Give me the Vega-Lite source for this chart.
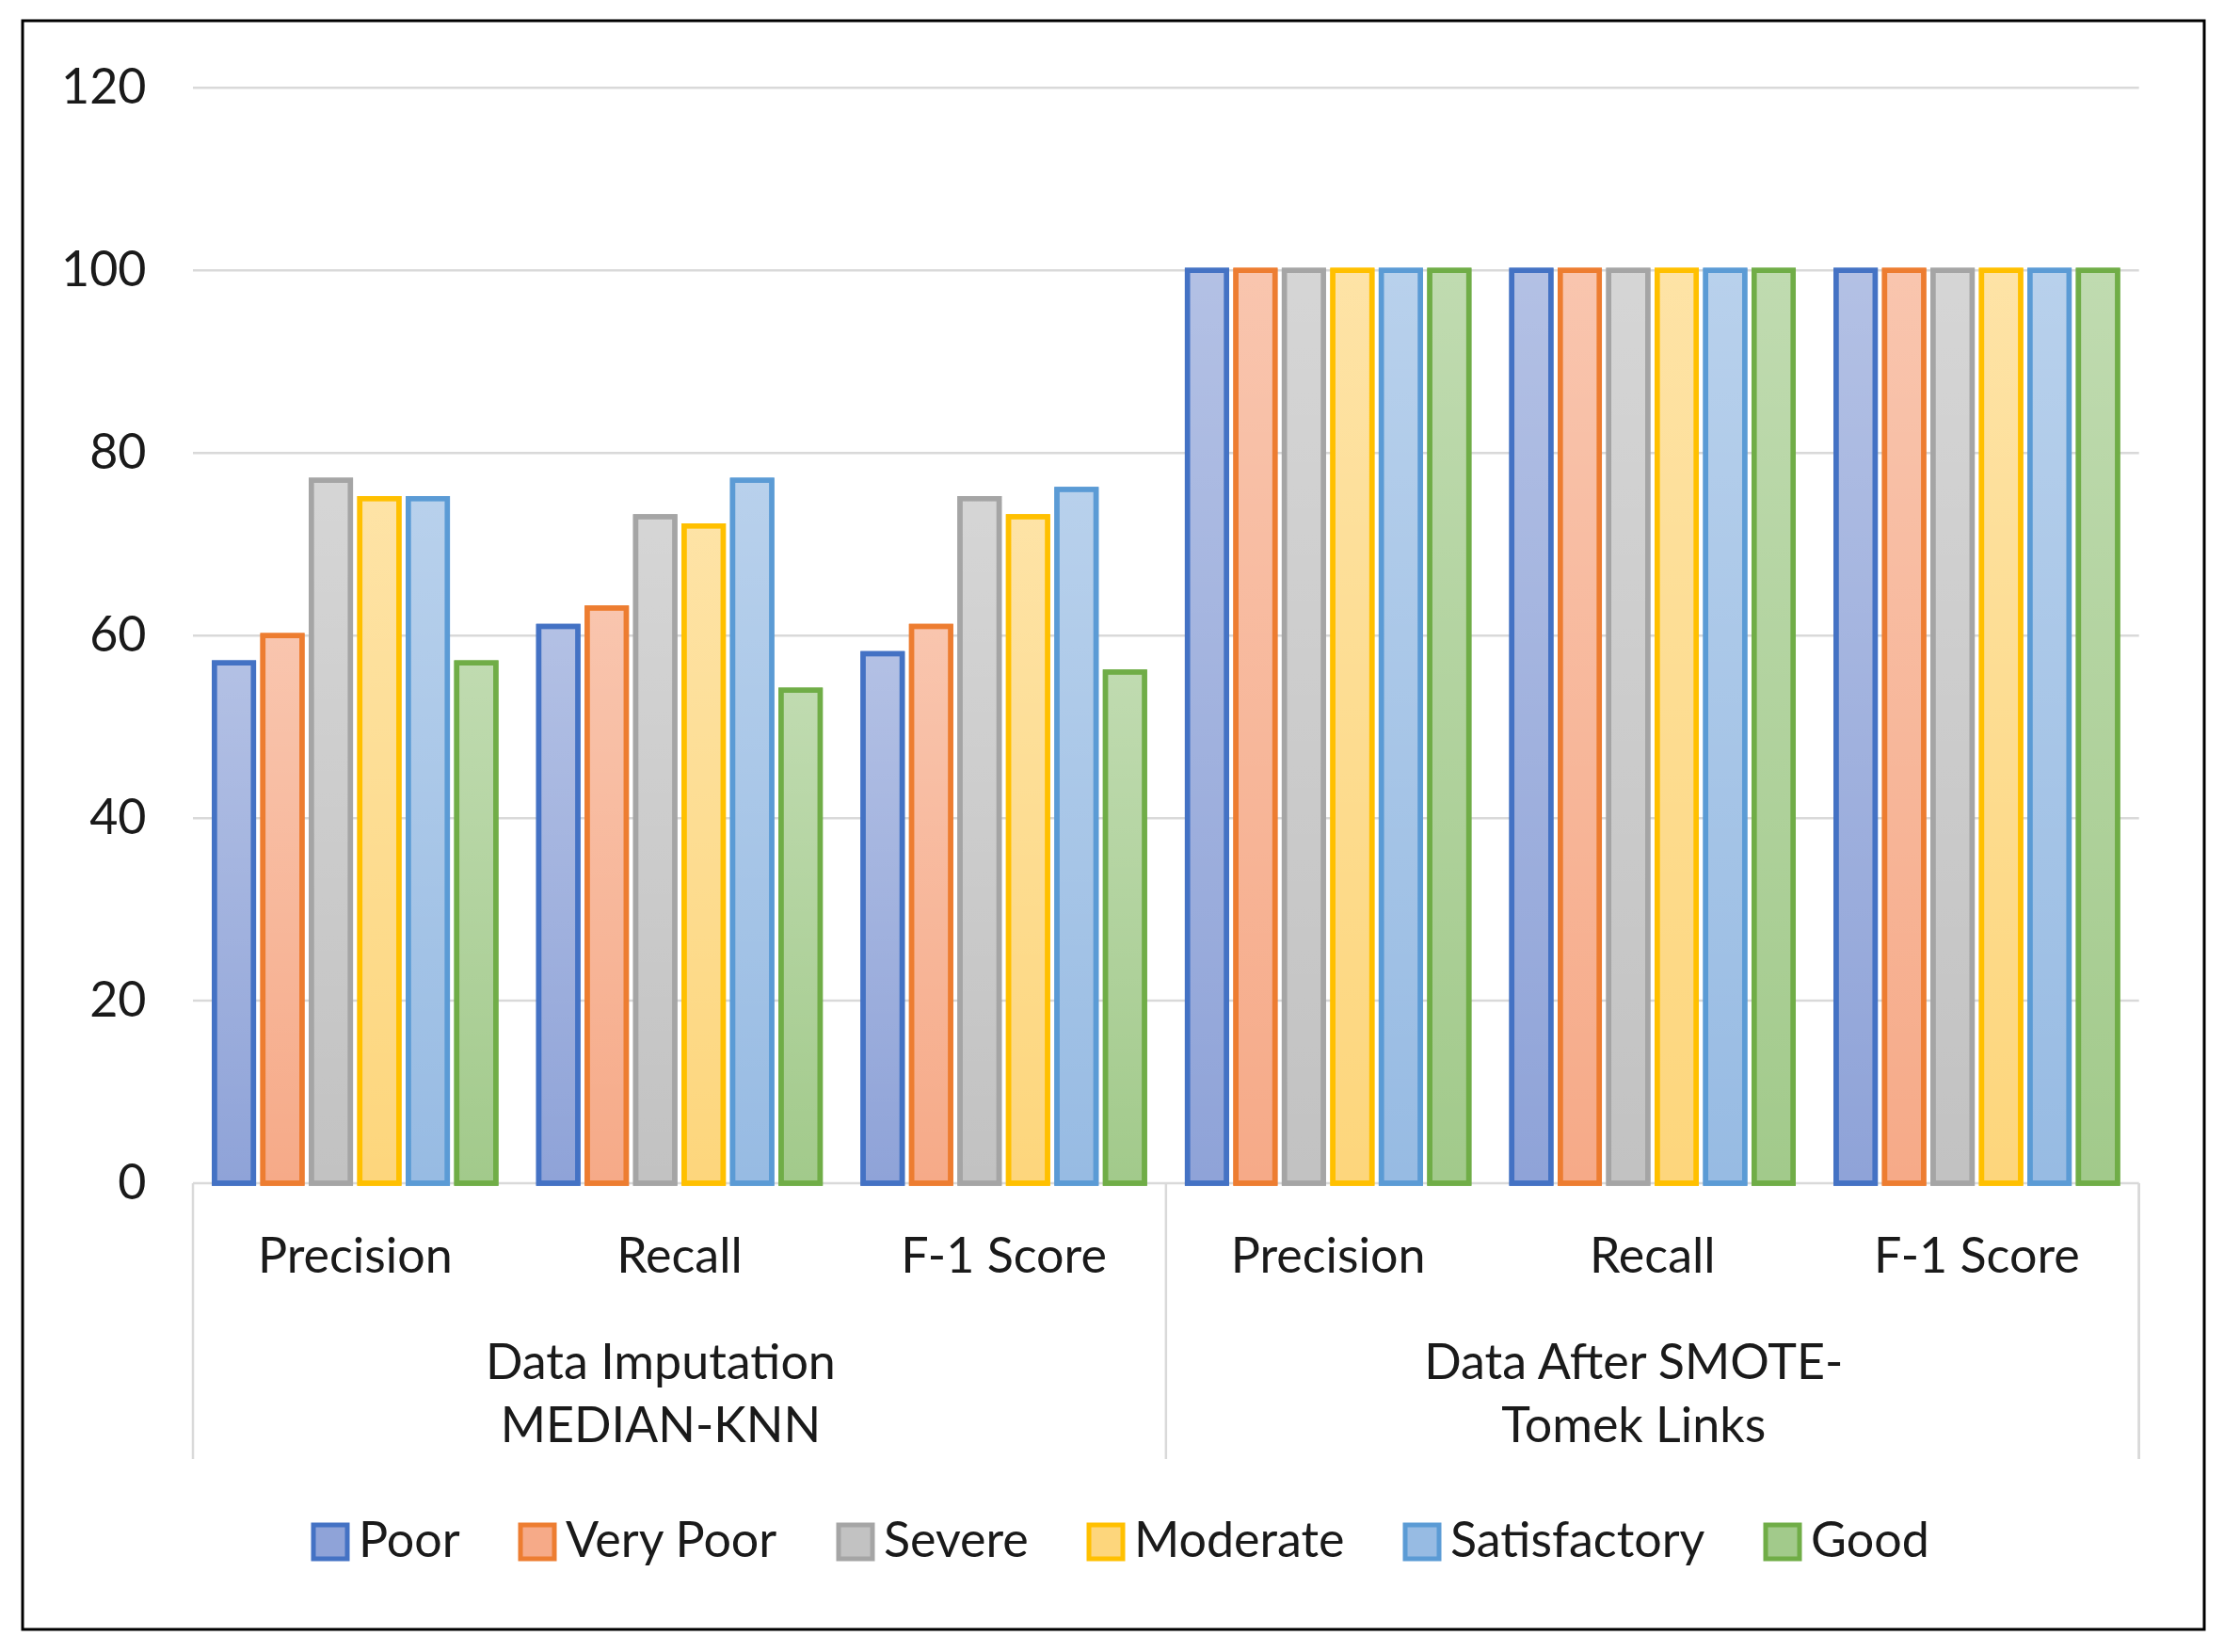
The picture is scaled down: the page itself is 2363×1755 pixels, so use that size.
{
  "$schema": "https://vega.github.io/schema/vega-lite/v6.json",
  "width": 2318,
  "height": 1709,
  "autosize": "none",
  "padding": {"left": 24, "top": 22, "right": 21, "bottom": 24},
  "background": "white",
  "config": {
    "view": {"stroke": "#000000", "strokeWidth": 3},
    "font": "Lato",
    "axis": {"labelFont": "Lato", "labelColor": "#1a1a1a", "labelFontSize": 52},
    "legend": {"labelFont": "Lato", "labelColor": "#1a1a1a"}
  },
  "datasets": {
    "bars": [
      {"cat": "MEDIAN-KNN|Precision", "cls": "Poor", "value": 57},
      {"cat": "MEDIAN-KNN|Precision", "cls": "Very Poor", "value": 60},
      {"cat": "MEDIAN-KNN|Precision", "cls": "Severe", "value": 77},
      {"cat": "MEDIAN-KNN|Precision", "cls": "Moderate", "value": 75},
      {"cat": "MEDIAN-KNN|Precision", "cls": "Satisfactory", "value": 75},
      {"cat": "MEDIAN-KNN|Precision", "cls": "Good", "value": 57},
      {"cat": "MEDIAN-KNN|Recall", "cls": "Poor", "value": 61},
      {"cat": "MEDIAN-KNN|Recall", "cls": "Very Poor", "value": 63},
      {"cat": "MEDIAN-KNN|Recall", "cls": "Severe", "value": 73},
      {"cat": "MEDIAN-KNN|Recall", "cls": "Moderate", "value": 72},
      {"cat": "MEDIAN-KNN|Recall", "cls": "Satisfactory", "value": 77},
      {"cat": "MEDIAN-KNN|Recall", "cls": "Good", "value": 54},
      {"cat": "MEDIAN-KNN|F-1 Score", "cls": "Poor", "value": 58},
      {"cat": "MEDIAN-KNN|F-1 Score", "cls": "Very Poor", "value": 61},
      {"cat": "MEDIAN-KNN|F-1 Score", "cls": "Severe", "value": 75},
      {"cat": "MEDIAN-KNN|F-1 Score", "cls": "Moderate", "value": 73},
      {"cat": "MEDIAN-KNN|F-1 Score", "cls": "Satisfactory", "value": 76},
      {"cat": "MEDIAN-KNN|F-1 Score", "cls": "Good", "value": 56},
      {"cat": "SMOTE-Tomek|Precision", "cls": "Poor", "value": 100},
      {"cat": "SMOTE-Tomek|Precision", "cls": "Very Poor", "value": 100},
      {"cat": "SMOTE-Tomek|Precision", "cls": "Severe", "value": 100},
      {"cat": "SMOTE-Tomek|Precision", "cls": "Moderate", "value": 100},
      {"cat": "SMOTE-Tomek|Precision", "cls": "Satisfactory", "value": 100},
      {"cat": "SMOTE-Tomek|Precision", "cls": "Good", "value": 100},
      {"cat": "SMOTE-Tomek|Recall", "cls": "Poor", "value": 100},
      {"cat": "SMOTE-Tomek|Recall", "cls": "Very Poor", "value": 100},
      {"cat": "SMOTE-Tomek|Recall", "cls": "Severe", "value": 100},
      {"cat": "SMOTE-Tomek|Recall", "cls": "Moderate", "value": 100},
      {"cat": "SMOTE-Tomek|Recall", "cls": "Satisfactory", "value": 100},
      {"cat": "SMOTE-Tomek|Recall", "cls": "Good", "value": 100},
      {"cat": "SMOTE-Tomek|F-1 Score", "cls": "Poor", "value": 100},
      {"cat": "SMOTE-Tomek|F-1 Score", "cls": "Very Poor", "value": 100},
      {"cat": "SMOTE-Tomek|F-1 Score", "cls": "Severe", "value": 100},
      {"cat": "SMOTE-Tomek|F-1 Score", "cls": "Moderate", "value": 100},
      {"cat": "SMOTE-Tomek|F-1 Score", "cls": "Satisfactory", "value": 100},
      {"cat": "SMOTE-Tomek|F-1 Score", "cls": "Good", "value": 100}
    ],
    "grid": [{"v": 0}, {"v": 20}, {"v": 40}, {"v": 60}, {"v": 80}, {"v": 100}, {"v": 120}],
    "seps": [{"cat": "MEDIAN-KNN|Precision"}, {"cat": "SMOTE-Tomek|Precision"}],
    "groups": [
      {"cat": "MEDIAN-KNN|Recall", "label": "Data Imputation\nMEDIAN-KNN"},
      {"cat": "SMOTE-Tomek|Recall", "label": "Data After SMOTE-\nTomek Links"}
    ]
  },
  "layer": [
    {
      "data": {"name": "grid"},
      "mark": {"type": "rule", "color": "#d9d9d9", "strokeWidth": 2.5},
      "encoding": {
        "y": {"field": "v", "type": "quantitative"},
        "x": {"datum": "MEDIAN-KNN|Precision", "type": "nominal", "bandPosition": 0},
        "x2": {"datum": "SMOTE-Tomek|F-1 Score", "bandPosition": 1}
      }
    },
    {
      "data": {"name": "seps"},
      "mark": {"type": "rule", "color": "#d9d9d9", "strokeWidth": 2.5},
      "encoding": {
        "x": {"field": "cat", "type": "nominal", "bandPosition": 0},
        "y": {"datum": 0, "type": "quantitative"},
        "y2": {"datum": -30.2}
      }
    },
    {
      "data": {"name": "seps"},
      "mark": {"type": "rule", "color": "#d9d9d9", "strokeWidth": 2.5},
      "encoding": {
        "x": {"datum": "SMOTE-Tomek|F-1 Score", "type": "nominal", "bandPosition": 1},
        "y": {"datum": 0, "type": "quantitative"},
        "y2": {"datum": -30.2}
      }
    },
    {
      "data": {"name": "bars"},
      "mark": {"type": "bar", "strokeWidth": 5.5},
      "encoding": {
        "x": {
          "field": "cat", "type": "nominal",
          "scale": {
            "domain": ["MEDIAN-KNN|Precision", "MEDIAN-KNN|Recall", "MEDIAN-KNN|F-1 Score", "SMOTE-Tomek|Precision", "SMOTE-Tomek|Recall", "SMOTE-Tomek|F-1 Score"],
            "paddingInner": 0, "paddingOuter": 0.3632, "align": 0.7231
          },
          "axis": {
            "orient": "bottom", "offset": -474, "domain": false, "ticks": false, "tickSize": 0,
            "grid": false, "labelPadding": 94, "labelBaseline": "alphabetic", "labelAngle": 0,
            "labelAlign": "center", "labelLimit": 2000, "bandPosition": 0.5,
            "labelExpr": "split(datum.label, '|')[1]", "title": null
          }
        },
        "xOffset": {
          "field": "cls", "type": "nominal",
          "scale": {"domain": ["Poor", "Very Poor", "Severe", "Moderate", "Satisfactory", "Good"], "paddingInner": 0.194, "paddingOuter": 0.443}
        },
        "y": {
          "field": "value", "type": "quantitative", "stack": null,
          "scale": {"domain": [-48.87, 127.35], "nice": false, "zero": false},
          "axis": {
            "values": [0, 20, 40, 60, 80, 100, 120], "grid": false, "domain": false, "ticks": false,
            "tickSize": 0, "labelPadding": 0, "offset": -131, "title": null
          }
        },
        "y2": {"datum": 0},
        "fill": {
          "field": "cls", "type": "nominal",
          "scale": {"domain": ["Poor", "Very Poor", "Severe", "Moderate", "Satisfactory", "Good"], "range": ["#8fa3d8", "#f6aa88", "#c2c2c2", "#fdd67c", "#97bbe3", "#a2ca8b"]},
          "legend": {
            "orient": "none", "legendX": 301, "legendY": 1590, "direction": "horizontal", "title": null,
            "symbolType": "square", "symbolSize": 1296, "symbolStrokeWidth": 5, "labelFontSize": 52,
            "labelOffset": 4, "columnPadding": 54, "padding": 0, "labelLimit": 2000
          }
        },
        "stroke": {
          "field": "cls", "type": "nominal",
          "scale": {"domain": ["Poor", "Very Poor", "Severe", "Moderate", "Satisfactory", "Good"], "range": ["#4472c4", "#ed7d31", "#a5a5a5", "#ffc000", "#5b9bd5", "#70ad47"]},
          "legend": {
            "orient": "none", "legendX": 301, "legendY": 1590, "direction": "horizontal", "title": null,
            "symbolType": "square", "symbolSize": 1296, "symbolStrokeWidth": 5, "labelFontSize": 52,
            "labelOffset": 4, "columnPadding": 54, "padding": 0, "labelLimit": 2000
          }
        }
      }
    },
    {
      "data": {"name": "bars"},
      "mark": {
        "type": "bar", "strokeWidth": 0,
        "fill": {"gradient": "linear", "x1": 0, "y1": 0, "x2": 0, "y2": 1, "stops": [{"offset": 0, "color": "rgba(255,255,255,0.32)"}, {"offset": 1, "color": "rgba(255,255,255,0)"}]}
      },
      "encoding": {
        "x": {"field": "cat", "type": "nominal"},
        "xOffset": {"field": "cls", "type": "nominal"},
        "y": {"field": "value", "type": "quantitative", "stack": null},
        "y2": {"datum": 0}
      }
    },
    {
      "data": {"name": "bars"},
      "mark": {"type": "bar", "strokeWidth": 5.5, "fillOpacity": 0},
      "encoding": {
        "x": {"field": "cat", "type": "nominal"},
        "xOffset": {"field": "cls", "type": "nominal"},
        "y": {"field": "value", "type": "quantitative", "stack": null},
        "y2": {"datum": 0},
        "stroke": {"field": "cls", "type": "nominal", "legend": null}
      }
    },
    {
      "data": {"name": "groups"},
      "mark": {"type": "text", "font": "Lato", "fontSize": 52, "color": "#1a1a1a", "align": "center", "baseline": "alphabetic", "lineBreak": "\n", "lineHeight": 67, "dx": -20},
      "encoding": {
        "x": {"field": "cat", "type": "nominal"},
        "y": {"datum": -21.44, "type": "quantitative"},
        "text": {"field": "label"}
      }
    }
  ]
}
